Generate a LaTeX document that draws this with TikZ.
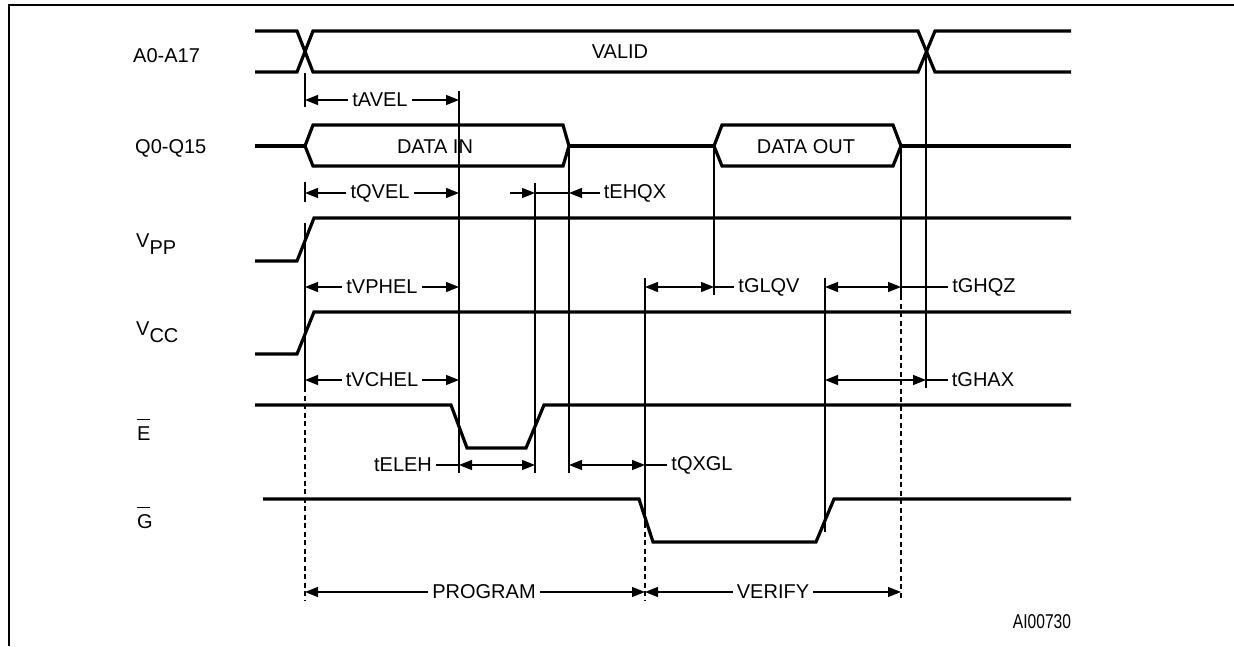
\documentclass[tikz,border=0pt]{standalone}
\usepackage{fontspec}
\setmainfont{Liberation Sans}
\usetikzlibrary{arrows.meta,calc}
\newcommand{\ovbar}[1]{\rlap{\raisebox{20pt}{\rule{12.5pt}{1.5pt}}}#1}
\tikzset{
    signal/.style = {
        line width=3.2pt,
        line join=miter,
        },
    guide/.style = {
        line width=1.2pt,
        },
    guide dashed/.style = {
        line width=1.2pt,
        dash pattern=on 5pt off 3.5pt,
        },
    tlabel/.style = {
        inner sep=4pt,
        },
    sig name/.style = {
        anchor=base west,
        inner sep=0pt,
        },
    frame/.style = {
        line width=2pt,
        },
}

\begin{document}
\begin{tikzpicture}[x=1pt, y=-1pt, font=\fontsize{20}{24}\selectfont,
        >={Triangle[length=13pt,width=10pt]}]
            \useasboundingbox (0,0) rectangle (1234,646);
            \draw[frame] (9,646) -- (9,5) -- (1234,5);

            \coordinate (t1) at (305,0);
            \coordinate (t2) at (459,0);
            \coordinate (t3) at (535,0);
            \coordinate (t4) at (569,0);
            \coordinate (t5) at (645,0);
            \coordinate (t6) at (714,0);
            \coordinate (t7) at (825,0);
            \coordinate (t8) at (901,0);
            \coordinate (t9) at (926,0);

            \node[sig name] (sa) at (133,62) {A0-A17};
            \node[sig name] (sq) at (135,153) {Q0-Q15};
            \node[sig name] (svpp) at (136,247) {V\raisebox{-7pt}{PP}};
            \node[sig name] (svcc) at (136,335) {V\raisebox{-7pt}{CC}};
            \node[sig name] (se) at (137,440) {\ovbar{E}};
            \node[sig name] (sg) at (137,528) {\ovbar{G}};

            % waveforms
            \draw[signal] (255,31) -- (297,31) -- (313,72) -- (918,72) -- (935,31) -- (1071,31);
            \draw[signal] (255,72) -- (297,72) -- (313,31) -- (918,31) -- (935,72) -- (1071,72);
            \node (valid) at (620,52) {VALID};

            \draw[signal] (255,146) -- (305,146) (569,146) -- (714,146) (901,146) -- (1071,146);
            \draw[signal] (305,146) -- (313,125) -- (563,125) -- (569,146) -- (563,166) -- (313,166) -- cycle;
            \draw[signal] (714,146) -- (722,125) -- (893,125) -- (901,146) -- (893,166) -- (722,166) -- cycle;
            \node (din) at (435,147) {DATA IN};
            \node (dout) at (806,147) {DATA OUT};

            \draw[signal] (255,261) -- (297,261) -- (314,218) -- (1071,218);
            \draw[signal] (255,354) -- (297,354) -- (314,312) -- (1071,312);
            \draw[signal] (255,405) -- (451,405) -- (467,448) -- (526,448) -- (544,405) -- (1071,405);
            \draw[signal] (263,499) -- (639,499) -- (653,542) -- (816,542) -- (834,499) -- (1071,499);

            % reference lines
            \draw[guide] (305,73) -- (305,107);
            \draw[guide] (305,182) -- (305,202);
            \draw[guide] (305,223) -- (305,387);
            \draw[guide dashed] (305,387) -- (305,600);
            \draw[guide] (459,91) -- (459,473);
            \draw[guide] (535,183) -- (535,473);
            \draw[guide] (569,146) -- (569,473);
            \draw[guide] (645,278) -- (645,523);
            \draw[guide dashed] (645,523) -- (645,600);
            \draw[guide] (714,146) -- (714,295);
            \draw[guide] (825,278) -- (825,532);
            \draw[guide] (901,146) -- (901,295);
            \draw[guide dashed] (901,295) -- (901,600);
            \draw[guide] (926,51) -- (926,388);

            % timings
            \node[tlabel] (tavel) at (380,100) {tAVEL};
            \draw[guide,->] (tavel.west) -- (tavel -| t1);
            \draw[guide,->] (tavel.east) -- (tavel -| t2);

            \node[tlabel] (tqvel) at (380,193) {tQVEL};
            \draw[guide,->] (tqvel.west) -- (tqvel -| t1);
            \draw[guide,->] (tqvel.east) -- (tqvel -| t2);

            \node[tlabel] (tehqx) at (635,193) {tEHQX};
            \draw[guide,->] (tehqx.west) -- (tehqx -| t4);
            \draw[guide] (tehqx -| t3) -- (tehqx -| t4);
            \draw[guide,->] ($(tehqx -| t3)+(-25,0)$) -- (tehqx -| t3);

            \node[tlabel] (tvphel) at (382,287) {tVPHEL};
            \draw[guide,->] (tvphel.west) -- (tvphel -| t1);
            \draw[guide,->] (tvphel.east) -- (tvphel -| t2);

            \node[tlabel] (tglqv) at (769,287) {tGLQV};
            \draw[guide,<->] (tglqv -| t5) -- (tglqv -| t6);
            \draw[guide] (tglqv -| t6) -- (tglqv.west);

            \node[tlabel] (tghqz) at (984,287) {tGHQZ};
            \draw[guide,<->] (tghqz -| t7) -- (tghqz -| t8);
            \draw[guide] (tghqz -| t8) -- (tghqz.west);

            \node[tlabel] (tvchel) at (382,380) {tVCHEL};
            \draw[guide,->] (tvchel.west) -- (tvchel -| t1);
            \draw[guide,->] (tvchel.east) -- (tvchel -| t2);

            \node[tlabel] (tghax) at (983,380) {tGHAX};
            \draw[guide,<->] (tghax -| t7) -- (tghax -| t9);
            \draw[guide] (tghax -| t9) -- (tghax.west);

            \node[tlabel] (teleh) at (403,465) {tELEH};
            \draw[guide] (teleh.east) -- (teleh -| t2);
            \draw[guide,<->] (teleh -| t2) -- (teleh -| t3);

            \node[tlabel] (tqxgl) at (702,465) {tQXGL};
            \draw[guide,<->] (tqxgl -| t4) -- (tqxgl -| t5);
            \draw[guide] (tqxgl -| t5) -- (tqxgl.west);

            \node[tlabel] (prog) at (484,592) {PROGRAM};
            \draw[guide,->] (prog.west) -- (prog -| t1);
            \draw[guide,->] (prog.east) -- (prog -| t5);

            \node[tlabel] (verify) at (773,592) {VERIFY};
            \draw[guide,->] (verify.west) -- (verify -| t5);
            \draw[guide,->] (verify.east) -- (verify -| t8);

            \node (fig) at (1042,622) {\scalebox{0.78}[1]{AI00730}};
        \end{tikzpicture}
\end{document}
